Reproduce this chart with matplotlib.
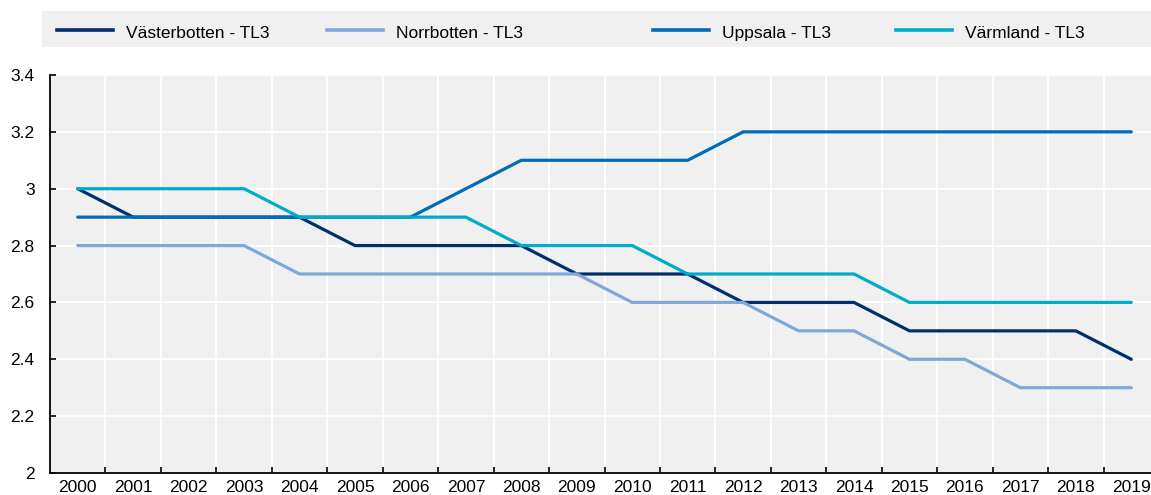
import numpy as np
import matplotlib
matplotlib.use("Agg")
import matplotlib.pyplot as plt
from matplotlib.lines import Line2D
from matplotlib.patches import Rectangle

plt.rcParams['font.family'] = ['Liberation Sans Narrow', 'Liberation Sans', 'DejaVu Sans']

years = [str(y) for y in range(2000, 2020)]
vasterbotten = [3.0, 2.9, 2.9, 2.9, 2.9, 2.8, 2.8, 2.8, 2.8, 2.7,
                2.7, 2.7, 2.6, 2.6, 2.6, 2.5, 2.5, 2.5, 2.5, 2.4]
norrbotten = [2.8, 2.8, 2.8, 2.8, 2.7, 2.7, 2.7, 2.7, 2.7, 2.7,
              2.6, 2.6, 2.6, 2.5, 2.5, 2.4, 2.4, 2.3, 2.3, 2.3]
uppsala = [2.9, 2.9, 2.9, 2.9, 2.9, 2.9, 2.9, 3.0, 3.1, 3.1,
           3.1, 3.1, 3.2, 3.2, 3.2, 3.2, 3.2, 3.2, 3.2, 3.2]
varmland = [3.0, 3.0, 3.0, 3.0, 2.9, 2.9, 2.9, 2.9, 2.8, 2.8,
            2.8, 2.7, 2.7, 2.7, 2.7, 2.6, 2.6, 2.6, 2.6, 2.6]

series = [("Västerbotten - TL3", vasterbotten, "#002F6C"),
          ("Norrbotten - TL3", norrbotten, "#7FA8D9"),
          ("Uppsala - TL3", uppsala, "#006BB6"),
          ("Värmland - TL3", varmland, "#00ACCC")]

W, H = 1151, 495
fig = plt.figure(figsize=(W / 100, H / 100), dpi=100)
# axes box in pixel coords: left 50, right ~1159, top 75, bottom 473
ax = fig.add_axes([50 / W, (H - 473) / H, (1159 - 50) / W, (473 - 75) / H])
ax.set_facecolor("#F0F0F0")

x = np.arange(len(years))
for name, vals, col in series:
    ax.plot(x, vals, color=col, lw=2.3, solid_capstyle='round', zorder=3)

ax.set_xlim(-0.5, len(years) - 0.5)
ax.set_ylim(2, 3.4)
ax.set_yticks(np.arange(2, 3.41, 0.2))
ax.set_yticklabels(["2", "2.2", "2.4", "2.6", "2.8", "3", "3.2", "3.4"])

ax.set_xticks(np.arange(0.5, len(years) - 1, 1))
ax.set_xticklabels([])
ax.set_xticks(x, minor=True)
ax.set_xticklabels(years, minor=True)
ax.tick_params(axis='x', which='major', direction='in', length=4, width=1.2, color='black')
ax.tick_params(axis='x', which='minor', length=0, pad=5, labelsize=12.5)
ax.tick_params(axis='y', direction='in', length=4, width=1.2, pad=11, labelsize=12.5)

ax.grid(True, which='major', color='white', lw=1.3, zorder=0)
ax.set_axisbelow(True)
for s in ['top', 'right']:
    ax.spines[s].set_visible(False)
for s in ['left', 'bottom']:
    ax.spines[s].set_linewidth(1.3)
    ax.spines[s].set_color('black')

# legend box drawn in pixel coords
def fx(px):
    return px / W

def fy(py):
    return (H - py) / H

fig.add_artist(Rectangle((fx(42), fy(47)), fx(1151) - fx(42), fy(11) - fy(47),
                         transform=fig.transFigure, facecolor="#F0F0F0", edgecolor='none'))
leg_x = [57, 327, 653, 896]
for (name, vals, col), lx in zip(series, leg_x):
    fig.add_artist(Line2D([fx(lx), fx(lx + 56)], [fy(30), fy(30)],
                          transform=fig.transFigure, color=col, lw=2.6))
    fig.text(fx(lx + 69), fy(38), name, fontsize=12.5, va='baseline', ha='left')

fig.savefig("out.png", dpi=100)
